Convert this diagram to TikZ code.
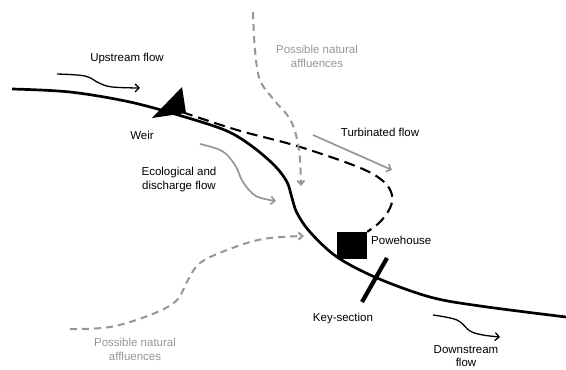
\documentclass[tikz,border=0pt]{standalone}
\usepackage{fontspec}
\setmainfont{Liberation Sans}
\usetikzlibrary{arrows.meta}
\definecolor{lgray}{RGB}{150,150,150}
\tikzset{
  river/.style={line width=2.7pt, black},
  channel/.style={line width=2.1pt, black, dash pattern=on 11pt off 6pt},
  affl/.style={line width=2pt, lgray, dash pattern=on 7pt off 5pt, -{Straight Barb[length=4pt,width=7pt]}},
  flowarrow/.style={line width=1.3pt, black, -{Straight Barb[length=4pt,width=8pt]}},
  grayarrow/.style={line width=1.7pt, lgray, -{Straight Barb[length=4pt,width=8pt]}},
  lbl/.style={font=\fontsize{11.5}{14}\selectfont, align=center, inner sep=0pt},
  glbl/.style={lbl, text=lgray},
}
\begin{document}
\begin{tikzpicture}[x=1pt,y=-1pt]
\useasboundingbox (0,0) rectangle (566,370);
% river
\draw[river] plot[smooth, tension=0.55] coordinates {(12,89) (70,92) (130,102) (185,117) (227,131) (253,147) (275,166) (287,182) (292,198) (297,213) (310,232) (337,257) (377,278) (430,297) (480,306) (566,317)};
% powerhouse
\node[fill=black, minimum width=30pt, minimum height=27pt, inner sep=0pt] (ph) at (352,245.5) {};
% weir
\coordinate (weir) at (182,112);
\fill[black] (182,87) -- (152,118) -- (186,113) -- cycle;
% turbinated channel
\draw[channel] plot[smooth, tension=0.6] coordinates {(weir) (237,130) (297,146) (358,167) (383,181) (392,195) (390,208) (380,222) (ph.north east)};
% key section
\coordinate (ks1) at (387,258);
\coordinate (ks2) at (362,302);
\draw[line width=4.2pt] (ks1) -- (ks2);
% affluences
\draw[affl] plot[smooth, tension=0.6] coordinates {(253,12) (255,50) (260,80) (274,100) (291,121) (299,150) (301,186)};
\draw[affl] plot[smooth, tension=0.6] coordinates {(70,329) (110,327) (150,315) (176,301) (188,280) (200,263) (227,250) (263,239) (304,236)};
% flow arrows
\draw[flowarrow] plot[smooth, tension=0.6] coordinates {(57,74) (85,76) (99,83) (112,87) (140,88)};
\draw[flowarrow] plot[smooth, tension=0.6] coordinates {(433,315) (457,320) (470,331) (483,335) (500,337)};
\draw[grayarrow] plot[smooth, tension=0.6] coordinates {(200,144) (222,151) (235,165) (243,182) (256,196) (276,201)};
\coordinate (t1) at (313,135);
\coordinate (t2) at (392,170);
\draw[grayarrow] (t1) -- (t2);
% labels
\node[lbl] (lup) at (127,59) {Upstream flow};
\node[lbl] (lweir) at (142,135) {Weir};
\node[lbl] (leco) at (179,180) {Ecological and\\discharge flow};
\node[glbl] (lpn1) at (317,56) {Possible natural\\affluences};
\node[lbl] (ltur) at (380,132) {Turbinated flow};
\node[lbl, anchor=west] (lph) at (371,240) {Powehouse};
\node[lbl] (lks) at (343,319) {Key-section};
\node[glbl] (lpn2) at (135,349) {Possible natural\\affluences};
\node[lbl, font=\fontsize{11.5}{13}\selectfont] (ldown) at (466,356) {Downstream\\flow};
\end{tikzpicture}
\end{document}
